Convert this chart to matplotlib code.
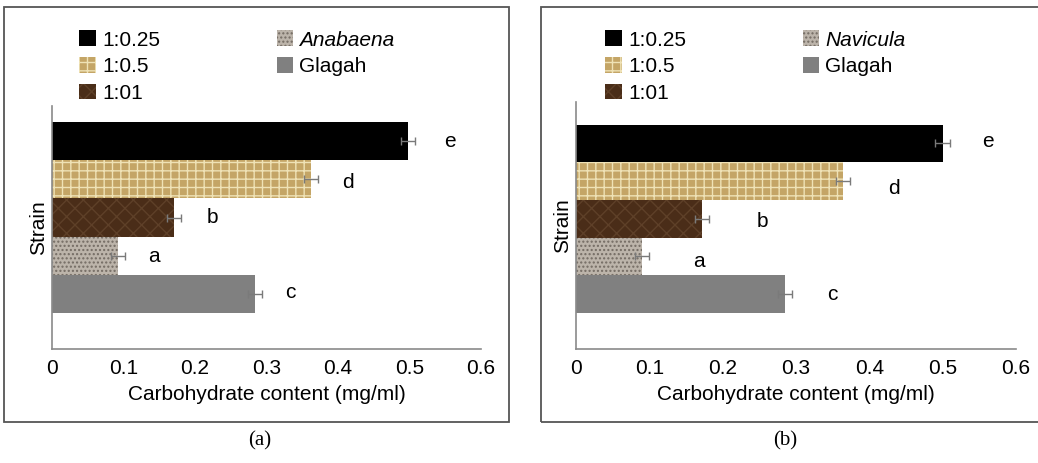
import matplotlib.pyplot as plt
from matplotlib.patches import Rectangle

plt.rcParams['font.family'] = ['Liberation Sans', 'DejaVu Sans']
plt.rcParams['hatch.linewidth'] = 1.0

# bars from bottom to top: Glagah, diatom/cyano strain, 1:01, 1:0.5, 1:0.25
legend_order = ['1:0.25', '1:0.5', '1:01', 'strain', 'Glagah']
bar_keys = ['Glagah', 'strain', '1:01', '1:0.5', '1:0.25']
letters = ['c', 'a', 'b', 'd', 'e']

carb_a = [0.284, 0.092, 0.171, 0.362, 0.498]
err_a = [0.010, 0.010, 0.010, 0.010, 0.010]
carb_b = [0.285, 0.090, 0.172, 0.364, 0.500]
err_b = [0.010, 0.010, 0.010, 0.010, 0.010]

strain_a = 'Anabaena'
strain_b = 'Navicula'

styles = {
    '1:0.25': dict(color='#000000', hatch=None, hc='#000000'),
    '1:0.5': dict(color='#c4a566', hatch='++', hc='#efe2b6'),
    '1:01': dict(color='#4a2d18', hatch='xx', hc='#5e4028'),
    'strain': dict(color='#bcb4aa', hatch='....', hc='#736b63'),
    'Glagah': dict(color='#808080', hatch=None, hc='#808080'),
}

FS = 15

fig = plt.figure(figsize=(10.38, 4.63), dpi=100)

# panel frames
fig.add_artist(Rectangle((4 / 1038, 1 - 422 / 463), 505 / 1038, 415 / 463,
                         transform=fig.transFigure, fill=False,
                         edgecolor='#555555', lw=1.3))
fig.add_artist(Rectangle((541 / 1038, 1 - 422 / 463), 520 / 1038, 415 / 463,
                         transform=fig.transFigure, fill=False,
                         edgecolor='#555555', lw=1.3))


def panel(rect, vals, errs, strain, ylim, dx, dy, leg_anchor, caption, cap_x):
    ax = fig.add_axes(rect)
    ys = range(len(vals))
    for y, key, v, e in zip(ys, bar_keys, vals, errs):
        st = styles[key]
        ax.barh(y, v, height=1.0, color=st['color'], hatch=st['hatch'],
                edgecolor=st['hc'], linewidth=0)
        ax.errorbar(v, y, xerr=e, fmt='none', ecolor='#7a7a7a',
                    elinewidth=1, capsize=3, capthick=1)
    for y, v, lab, ox, oy in zip(ys, vals, letters, dx, dy):
        ax.text(v + ox, y + oy, lab, ha='center', va='center', fontsize=FS)

    ax.set_xlim(0, 0.6)
    ax.set_ylim(*ylim)
    ax.set_xticks([0, 0.1, 0.2, 0.3, 0.4, 0.5, 0.6])
    ax.set_xticklabels(['0', '0.1', '0.2', '0.3', '0.4', '0.5', '0.6'])
    ax.set_yticks([])
    ax.tick_params(axis='x', length=0, labelsize=FS, pad=7)
    for s in ['top', 'right']:
        ax.spines[s].set_visible(False)
    for s in ['left', 'bottom']:
        ax.spines[s].set_color('#8a8a8a')
        ax.spines[s].set_linewidth(1.2)
    ax.set_xlabel('Carbohydrate content (mg/ml)', fontsize=FS, labelpad=5)
    ax.set_ylabel('Strain', fontsize=FS, labelpad=3)

    handles = []
    names = []
    for key in legend_order:
        st = styles[key]
        h = Rectangle((0, 0), 1, 1, facecolor=st['color'], hatch=st['hatch'],
                      edgecolor=st['hc'], linewidth=0)
        handles.append(h)
        names.append(strain if key == 'strain' else key)
    leg = fig.legend(handles, names, ncol=2, loc='upper left',
                     bbox_to_anchor=leg_anchor, frameon=False, fontsize=FS,
                     handlelength=0.78, handleheight=0.78, handletextpad=0.3,
                     labelspacing=0.36, columnspacing=5.6, borderpad=0)
    leg.get_texts()[3].set_style('italic')

    fig.text(cap_x, 1 - 441 / 463, caption, ha='center', va='center',
             fontsize=FS, family=['Liberation Serif', 'DejaVu Serif'])
    return ax


panel([52 / 1038, 1 - 349 / 463, 429 / 1038, 243 / 463],
      carb_a, err_a, strain_a, (-1.44, 4.92),
      [0.05, 0.051, 0.053, 0.052, 0.058], [0.05, -0.03, 0.0, -0.08, 0.0],
      (69 / 1038, 1 - 20 / 463), '(a)', 260 / 1038)

panel([576 / 1038, 1 - 349 / 463, 440 / 1038, 247 / 463],
      carb_b, err_b, strain_b, (-1.46, 5.10),
      [0.065, 0.078, 0.082, 0.069, 0.062], [0.0, -0.13, -0.08, -0.2, 0.05],
      (595 / 1038, 1 - 20 / 463), '(b)', 785 / 1038)

fig.savefig('out.png', dpi=100)
